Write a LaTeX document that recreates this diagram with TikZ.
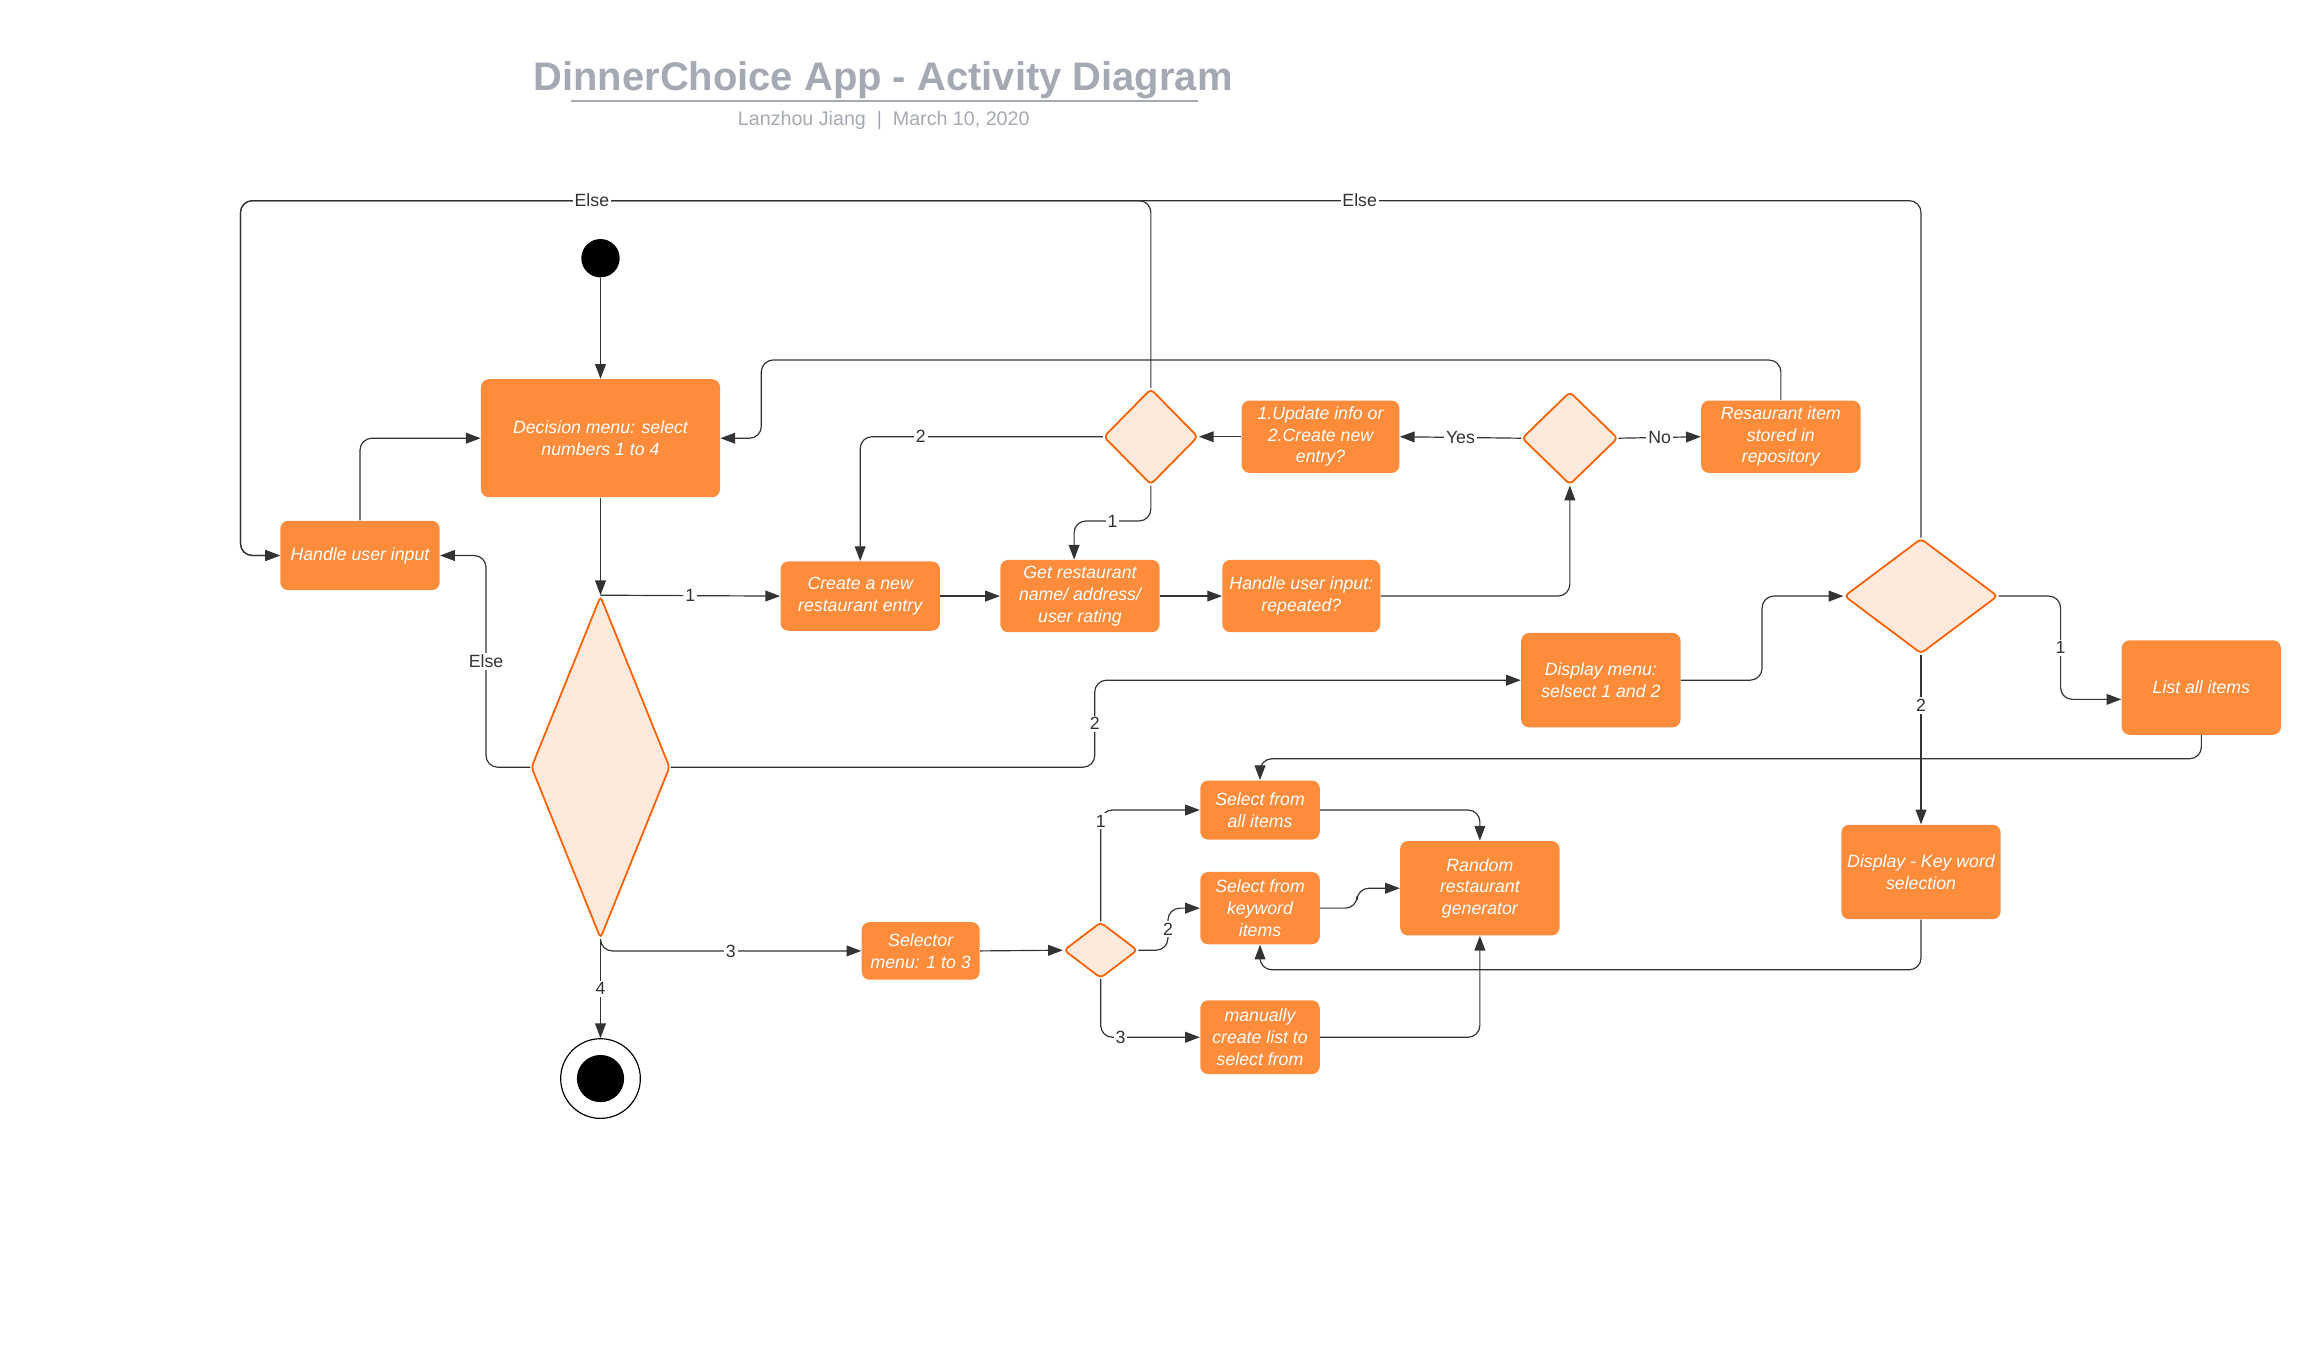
\documentclass[tikz,border=0pt]{standalone}
\usepackage{fontspec}
\setmainfont{Liberation Sans}
\usetikzlibrary{shapes.geometric,arrows.meta}

\definecolor{actorange}{HTML}{FF8C3B}
\definecolor{choicefill}{HTML}{FEEADC}
\definecolor{choiceline}{HTML}{FF6000}
\definecolor{flowgray}{HTML}{333333}
\definecolor{titlegray}{HTML}{A4A9B3}

\tikzset{
  act/.style={rectangle, rounded corners=4pt, fill=actorange, text=white,
    font=\fontsize{9}{11}\selectfont\itshape, align=center, inner sep=0.75pt},
  choice/.style={diamond, fill=choicefill, draw=choiceline, line width=0.9pt,
    inner sep=0pt, rounded corners=2pt},
  arr/.style={-{Triangle[length=7.5pt,width=5.5pt]}, draw=flowgray,
    line width=0.6pt, rounded corners=6pt},
  lbl/.style={fill=white, text=flowgray, font=\fontsize{9}{10}\selectfont,
    inner sep=1pt, rounded corners=0pt},
}

\begin{document}
\begin{tikzpicture}[x=0.75pt,y=0.75pt,yscale=-1,xscale=1]

            \useasboundingbox (0,0) rectangle (1567,921.8);

            % Title
            \node [font=\fontsize{20.3}{24}\selectfont\bfseries, text=titlegray] (title) at (598.5,54.5) {DinnerChoice App - Activity Diagram};
            \draw [titlegray, line width=1.1pt] (387,68.5) -- (812,68.5) ;
            \node [font=\fontsize{10}{12}\selectfont, text=titlegray] (byline) at (599,81.5) {Lanzhou Jiang \ | \ March 10, 2020};

            % Start / end
            \node [circle, fill=black, minimum size=19.5pt, inner sep=0pt] (start) at (407,175) {};
            \node [circle, draw=black, line width=0.6pt, minimum size=40.5pt, inner sep=0pt] (stop) at (407,731) {};
            \node [circle, fill=black, minimum size=24pt, inner sep=0pt] (stopdot) at (stop) {};

            % Main menu
            \node [act, minimum width=121.5pt, minimum height=60pt] (menu) at (407,297) {Decision menu: select\\numbers 1 to 4};
            \node [act, minimum width=81pt, minimum height=35.25pt] (hinput) at (244,376.5) {Handle user input};
            \node [choice, minimum width=70.5pt, minimum height=174pt] (menuq) at (407,520) {};

            % Option 1
            \node [act, minimum width=81pt, minimum height=35.25pt] (newentry) at (583,404) {Create a new\\restaurant entry};
            \node [act, minimum width=81pt, minimum height=36.75pt] (getinfo) at (732,404) {Get restaurant\\name/ address/\\user rating};
            \node [act, minimum width=80.25pt, minimum height=36.75pt] (repeated) at (882,404) {Handle user input:\\repeated?};
            \node [choice, minimum width=48pt, minimum height=48.75pt] (updq) at (780,296) {};
            \node [act, minimum width=80.25pt, minimum height=36.75pt] (update) at (895,296) {1.Update info or\\2.Create new\\entry?};
            \node [choice, minimum width=48.75pt, minimum height=47.25pt] (repq) at (1064,297) {};
            \node [act, minimum width=81pt, minimum height=36.75pt] (stored) at (1207,296) {Resaurant item\\stored in\\repository};

            % Option 2
            \node [act, minimum width=81pt, minimum height=48pt] (dispmenu) at (1085,461) {Display menu:\\selsect 1 and 2};
            \node [choice, minimum width=78pt, minimum height=58.5pt] (dispq) at (1302,404) {};
            \node [act, minimum width=81pt, minimum height=48pt] (listall) at (1492,466) {List all items};
            \node [act, minimum width=81pt, minimum height=48pt] (keyword) at (1302,591) {Display - Key word\\selection};

            % Option 3
            \node [act, minimum width=60pt, minimum height=29.25pt] (selector) at (624,644.5) {Selector\\menu: 1 to 3};
            \node [choice, minimum width=37.5pt, minimum height=28.5pt] (selq) at (746,644) {};
            \node [act, minimum width=60.75pt, minimum height=30pt] (selall) at (854,549) {Select from\\all items};
            \node [act, minimum width=60.75pt, minimum height=36.75pt] (selkey) at (854,615.5) {Select from\\keyword\\items};
            \node [act, minimum width=60.75pt, minimum height=37.5pt] (manual) at (854,703) {manually\\create list to\\select from};
            \node [act, minimum width=81pt, minimum height=48pt] (random) at (1003,602) {Random\\restaurant\\generator};

            % Flows
            \draw [arr] (start) -- (menu) ;
            \draw [arr] (menu) -- (menuq.north) ;
            \draw [arr] (menuq.north) -- node [lbl] {1} (newentry.west) ;
            \draw [arr] (menuq.west) -- ++(-30,0) |- node [lbl, pos=0.25] {Else} (hinput.east) ;
            \draw [arr] (hinput.north) |- (menu.west) ;
            \draw [arr] (menuq.east) -| node [lbl, pos=0.75] {2} (742,461) -- (dispmenu.west) ;
            \draw [arr] (menuq.south) -- node [lbl] {4} (stop) ;
            \draw [arr] (menuq.south) |- node [lbl, pos=0.75] {3} (selector.west) ;

            \draw [arr] (newentry) -- (getinfo) ;
            \draw [arr] (getinfo) -- (repeated) ;
            \draw [arr] (repeated.east) -| (repq.south) ;
            \draw [arr] (repq.west) -- node [lbl] {Yes} (update.east) ;
            \draw [arr] (repq.east) -- node [lbl] {No} (stored.west) ;
            \draw [arr] (stored.north) |- (516,244) |- (menu.east) ;
            \draw [arr] (update.west) -- (updq.east) ;
            \draw [arr] (updq.west) -| node [lbl, pos=0.375] {2} (newentry.north) ;
            \draw [arr] (updq.south) -- ++(0,24) -| node [lbl, pos=0.25] {1} ([xshift=-3pt]getinfo.north) ;

            \draw [arr] (dispq.north) |- node [lbl, pos=0.667] {Else} (163,136) |- (hinput.west) ;
            \draw [arr] (updq.north) |- node [lbl, pos=0.807] {Else} (163,136) |- (hinput.west) ;

            \draw [arr] (dispmenu.east) -- ++(55,0) |- (dispq.west) ;
            \draw [arr] (dispq.east) -- ++(42,0) |- node [lbl, pos=0.25] {1} ([yshift=6pt]listall.west) ;
            \draw [arr] (dispq.south) -- node [lbl, pos=0.3] {2} (keyword.north) ;
            \draw [arr] (listall.south) -- ++(0,16) -| (selall.north) ;
            \draw [arr] (keyword.south) -- ++(0,34) -| (selkey.south) ;

            \draw [arr] (selector.east) -- (selq.west) ;
            \draw [arr] (selq.north) |- node [lbl, pos=0.45] {1} (selall.west) ;
            \draw [arr] (selq.east) -- ++(20,0) |- node [lbl, pos=0.25] {2} (selkey.west) ;
            \draw [arr] (selq.south) |- node [lbl, pos=0.6] {3} (manual.west) ;
            \draw [arr] (selall.east) -| (random.north) ;
            \draw [arr] (selkey.east) -- ++(25,0) |- (random.west) ;
            \draw [arr] (manual.east) -| (random.south) ;

        \end{tikzpicture}
\end{document}
